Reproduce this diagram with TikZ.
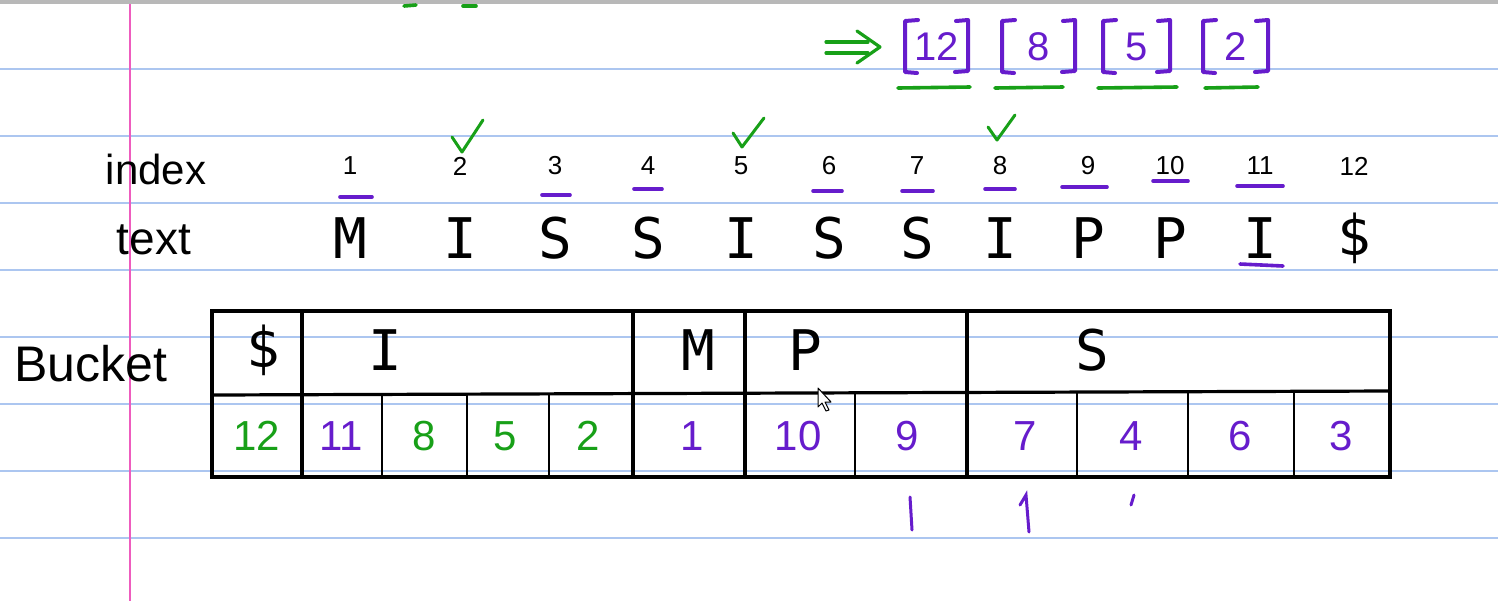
\documentclass[tikz,border=0pt]{standalone}
\usepackage{fontspec}
\setmainfont{Liberation Sans}
\newfontfamily\letterfont{DejaVu Sans Mono}
\definecolor{ruleblue}{RGB}{172,198,240}
\definecolor{marginpink}{RGB}{238,92,190}
\definecolor{inkpurple}{RGB}{102,28,204}
\definecolor{inkgreen}{RGB}{24,160,24}
\begin{document}
\begin{tikzpicture}[x=0.5pt,y=-0.5pt,
    word/.style={font=\fontsize{21}{23}\selectfont,inner sep=0pt},
    letter/.style={font=\letterfont\fontsize{28}{30}\selectfont,inner sep=0pt},
    idxnum/.style={font=\fontsize{13}{14}\selectfont,inner sep=0pt},
    cellnum/.style={font=\fontsize{21}{23}\selectfont,inner sep=0pt},
    ticked/.style={inkgreen,line width=1.5pt,line cap=round,line join=round},
    ul/.style={inkpurple,line width=1.8pt,line cap=round},
    gul/.style={inkgreen,line width=1.8pt,line cap=round},
    brk/.style={inkpurple,line width=2pt,line cap=round,line join=round},
    frame/.style={line width=1.6pt},
    thin/.style={line width=0.8pt}]
  \useasboundingbox (0,0) rectangle (1498,601);
  \fill[white] (0,0) rectangle (1498,601);
  \fill[black!28] (0,0) rectangle (1498,4);

  % ruled paper
  \foreach \y in {69,136,203,270,337,404,471,538}
    \draw[ruleblue,line width=1pt] (0,\y) -- (1498,\y);
  \draw[marginpink,line width=1.2pt] (130,4) -- (130,601);
  \draw[gul] (404,6) -- (416,5);
  \draw[gul] (463,6) -- (476,6);

  % result list
  \draw[inkgreen,line width=1.6pt,line cap=round] (826,42) -- (868,42) (826,53) -- (868,53);
  \draw[ticked,line width=1.6pt] (857,31) -- (880,47) -- (857,63);
  \foreach \n/\l/\r in {12/905/968,8/1002/1075,5/1103/1170,2/1203/1268} {
      \draw[brk] (\l+13,20) -- (\l,21) -- (\l,72) -- (\l+12,73);
      \draw[brk] (\r-12,21) -- (\r,20) -- (\r,71) -- (\r-13,72);
      \node[cellnum,inkpurple,font=\fontsize{20}{22}\selectfont] (res\n) at ({(\l+\r)/2},47) {\n};
    }
  \foreach \a/\b in {898/970,995/1063,1098/1177,1205/1258}
    \draw[gul] (\a,88) -- (\b,87);

  % index and text rows
  \node[word] (lindex) at (156,169) {index};
  \node[word,font=\fontsize{23}{25}\selectfont] (ltext) at (154,240) {text};
  \foreach \i/\x/\c in {1/350/M,2/460/I,3/555/S,4/648/S,5/741/I,6/829/S,
                        7/917/S,8/1000/I,9/1088/P,10/1170/P,11/1260/I,12/1354/\$} {
      \node[idxnum] (idx\i) at (\x,166) {\i};
      \node[letter] (ch\i) at (\x,238) {\c};
    }
  \foreach \a/\b/\y in {340/372/197,542/570/195,634/662/189,813/842/191,902/933/191,
                        985/1015/189,1062/1107/187,1153/1188/181,1237/1283/186}
    \draw[ul] (\a,\y) -- (\b,\y);
  \draw[ul] (1240,264) -- (1283,266);
  \draw[ticked] (452,137) -- (462,152) -- (483,120);
  \draw[ticked] (733,133) -- (742,147) -- (764,118);
  \draw[ticked] (988,127) -- (997,140) -- (1015,115);

  % bucket table
  \node[word,font=\fontsize{25}{27}\selectfont] (lbucket) at (91,364) {Bucket};
  \draw[frame] (212,311) rectangle (1390,477);
  \draw[frame] (212,395) -- (1390,391);
  \foreach \x in {302,633,745,967}
    \draw[frame] (\x,311) -- (\x,477);
  \foreach \x in {382,467,549,855,1077,1188,1294}
    \draw[thin] (\x,393) -- (\x,477);
  \foreach \c/\x/\n in {\$/263/sym,I/385/I,M/698/M,P/805/P,S/1092/S}
    \node[letter] (b\n) at (\x,350) {\c};
  \foreach \v/\x/\col in {12/257/inkgreen,11/341/inkpurple,8/424/inkgreen,5/505/inkgreen,
                          2/588/inkgreen,1/692/inkpurple,10/798/inkpurple,9/907/inkpurple,
                          7/1025/inkpurple,4/1131/inkpurple,6/1240/inkpurple,3/1341/inkpurple}
    \node[cellnum,\col] (sa\v) at (\x,436) {\v};

  % marks below
  \draw[ul,line width=1.5pt] (910,497) -- (912,530);
  \draw[ul,line width=1.5pt] (1020,505) -- (1026,495) -- (1029,532);
  \draw[ul,line width=1.5pt] (1134,495) -- (1131,505);

  % mouse pointer
  \draw[fill=white,line width=0.5pt,line join=round] (818,388) -- (818,407) -- (822,403)
    -- (826,411) -- (829,410) -- (825,402) -- (831,402) -- cycle;
\end{tikzpicture}
\end{document}
